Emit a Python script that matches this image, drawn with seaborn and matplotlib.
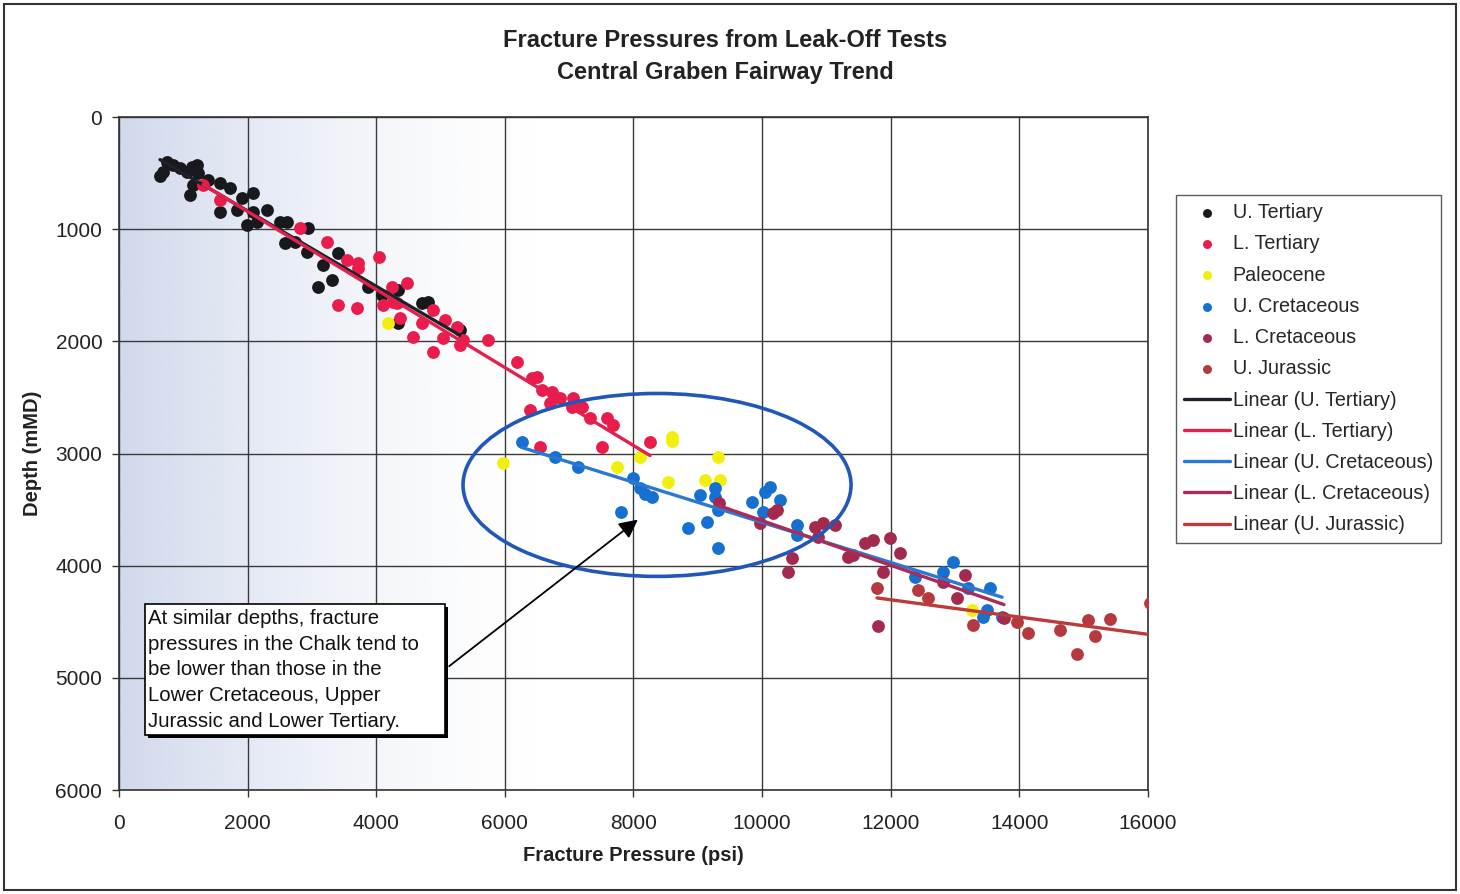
import numpy as np
import matplotlib
matplotlib.use("Agg")
import matplotlib.pyplot as plt
import matplotlib.patheffects as pe
from matplotlib.patches import Ellipse, Rectangle
import seaborn as sns

# fracture pressure (psi) and depth (mMD)
ut_psi = [684, 638, 746, 840, 949, 1057, 1135, 1213, 1228, 1104, 1151, 1384, 1571, 1726,
          1571, 1835, 1913, 2084, 2084, 1990, 2301, 2146, 2504, 2612, 2939, 2581, 2737,
          2923, 3172, 3405, 3312, 3094, 3872, 4090, 4339, 4712, 4805, 4339, 5300]
ut_depth = [490, 526, 401, 428, 455, 490, 446, 428, 499, 695, 606, 562, 588, 633,
            847, 829, 722, 677, 847, 963, 829, 936, 936, 936, 989, 1123, 1114,
            1203, 1319, 1212, 1453, 1515, 1515, 1587, 1542, 1658, 1649, 1836, 1900]

lt_psi = [1306, 1571, 2815, 3234, 3545, 3716, 3716, 4043, 3405, 3701, 4105, 4245, 4478,
          4261, 4323, 4370, 4572, 4712, 4883, 5038, 4883, 5069, 5256, 5349, 5303, 5738,
          6189, 6422, 6500, 6578, 6733, 6858, 7060, 7044, 7200, 6391, 6702, 7324, 7588,
          7682, 8257, 7511, 6547]
lt_depth = [606, 740, 989, 1114, 1275, 1301, 1346, 1248, 1676, 1702, 1676, 1515, 1480,
            1649, 1658, 1792, 1961, 1836, 1720, 1970, 2095, 1809, 1872, 1988, 2032, 1988,
            2184, 2326, 2317, 2433, 2451, 2505, 2505, 2585, 2585, 2612, 2549, 2683, 2683,
            2745, 2897, 2941, 2941]

pal_psi = [4183, 5971, 7744, 8102, 8599, 8599, 9314, 8537, 9112, 9346, 13264]
pal_depth = [1836, 3084, 3120, 3030, 2852, 2888, 3030, 3253, 3235, 3235, 4394]

uc_psi = [6267, 6780, 7137, 7993, 8102, 8179, 8288, 7806, 8848, 9035, 9143, 9268, 9268,
          9314, 9314, 9843, 10045, 10123, 10279, 10014, 10543, 10543, 12378, 12813,
          12969, 13202, 13544, 13435, 13731, 13497]
uc_depth = [2897, 3030, 3120, 3218, 3307, 3360, 3387, 3521, 3663, 3369, 3610, 3307, 3387,
            3503, 3842, 3432, 3342, 3298, 3414, 3521, 3637, 3726, 4100, 4055,
            3966, 4198, 4198, 4457, 4457, 4394]

lc_psi = [9330, 9968, 10170, 10232, 10465, 10403, 10823, 10947, 11134, 10869, 11336,
          11414, 11600, 11725, 11989, 12145, 11880, 11802, 12813, 13031, 13155, 13760]
lc_depth = [3440, 3619, 3529, 3503, 3931, 4055, 3654, 3619, 3637, 3744, 3922,
            3904, 3797, 3770, 3752, 3886, 4055, 4537, 4145, 4287, 4082, 4465]

uj_psi = [11787, 12424, 12580, 13280, 13964, 14135, 14633, 15068, 15177, 15410,
          14897, 16032]
uj_depth = [4198, 4216, 4287, 4528, 4501, 4599, 4572, 4483, 4626, 4474,
            4786, 4332]

names = ["U. Tertiary", "L. Tertiary", "Paleocene", "U. Cretaceous", "L. Cretaceous", "U. Jurassic"]
psi = [ut_psi, lt_psi, pal_psi, uc_psi, lc_psi, uj_psi]
depth = [ut_depth, lt_depth, pal_depth, uc_depth, lc_depth, uj_depth]
dot_colors = ["#18191d", "#e91c4c", "#f3ef0c", "#1670cf", "#a3294f", "#b53a3e"]
line_colors = ["#1c2228", "#e3204e", None, "#2a78d2", "#ad2a55", "#bb3a3a"]

sns.set_style("white")
plt.rcParams['font.family'] = ['Liberation Sans', 'DejaVu Sans']

fig = plt.figure(figsize=(14.6, 8.94), dpi=100)
ax = fig.add_axes([0.0815, 0.1163, 0.7048, 0.7528])

# scanned-look blue wash on the left of the plot area
t = np.linspace(0, 1, 400)
wash = np.zeros((2, 400, 4))
wash[..., 0] = 0.76
wash[..., 1] = 0.80
wash[..., 2] = 0.90
wash[..., 3] = np.clip(1 - t / 0.42, 0, 1) ** 1.6 * 0.75
ax.imshow(wash, extent=[0, 1, 0, 1], transform=ax.transAxes, aspect='auto',
          zorder=0, interpolation='bilinear')

for name, x, y, c in zip(names, psi, depth, dot_colors):
    sns.scatterplot(x=np.array(x), y=np.array(y), color=c, s=85, linewidth=0,
                    label=name, ax=ax, zorder=3)

for name, x, y, lc in zip(names, psi, depth, line_colors):
    if lc is None:
        continue
    sns.regplot(x=np.array(x, float), y=np.array(y, float), scatter=False, ci=None,
                truncate=True, color=lc, line_kws=dict(lw=2.4, zorder=4),
                label="Linear ({})".format(name), ax=ax)

ax.set_xlim(0, 16000)
ax.set_ylim(6000, 0)
ax.set_xticks(range(0, 16001, 2000))
ax.set_yticks(range(0, 6001, 1000))
ax.set_xlabel("")
ax.set_ylabel("")
ax.grid(True, color='#3a3a3a', lw=1.0)
ax.set_axisbelow(True)
for sp in ax.spines.values():
    sp.set_color('#333333')
    sp.set_linewidth(1.2)
ax.tick_params(bottom=True, left=True, direction='out', length=5, width=1,
               color='#333333', labelsize=15, labelcolor='#222222')
ax.tick_params(axis='x', pad=12)
ax.tick_params(axis='y', pad=7)

# chalk ellipse and note
ax.add_patch(Ellipse((8366, 3280), 6033, 1631, fill=False, ec='#2257b8', lw=2.6, zorder=5))
ax.annotate('', xy=(8102, 3574), xytext=(5100, 4911),
            arrowprops=dict(arrowstyle='-|>', color='black', lw=1.3, mutation_scale=28),
            zorder=6)
box = Rectangle((404, 4341), 4665, 1167, fc='white', ec='black', lw=1.2, zorder=6)
box.set_path_effects([pe.SimplePatchShadow(offset=(2.5, -2.5), shadow_rgbFace='black', alpha=1),
                      pe.Normal()])
ax.add_patch(box)
ax.text(450, 4385,
        "At similar depths, fracture\npressures in the Chalk tend to\nbe lower than those in the\n"
        "Lower Cretaceous, Upper\nJurassic and Lower Tertiary.",
        fontsize=14.7, va='top', ha='left', linespacing=1.45, color='#111111', zorder=7)

handles, labels = ax.get_legend_handles_labels()
ax.legend(handles, labels, loc='upper left', bbox_to_anchor=(0.8055, 0.782),
          bbox_transform=fig.transFigure, frameon=True, fancybox=False,
          edgecolor='#333333', fontsize=14.2, markerscale=0.7, handlelength=2.3,
          handletextpad=0.15, labelspacing=0.62, borderpad=0.42, borderaxespad=0)

fig.text(0.497, 0.937, "Fracture Pressures from Leak-Off Tests\nCentral Graben Fairway Trend",
         ha='center', va='center', fontsize=17, fontweight='bold', linespacing=1.5, color='#222222')
fig.text(0.434, 0.0436, "Fracture Pressure (psi)", ha='center', va='center',
         fontsize=14.5, fontweight='bold', color='#222222')
fig.text(0.0226, 0.493, "Depth (mMD)", ha='center', va='center', rotation=90,
         fontsize=14.5, fontweight='bold', color='#222222')

fig.patches.append(Rectangle((0.003, 0.004), 0.994, 0.992, transform=fig.transFigure,
                             fill=False, ec='#333333', lw=1.5))

fig.savefig("out.png", dpi=100)
